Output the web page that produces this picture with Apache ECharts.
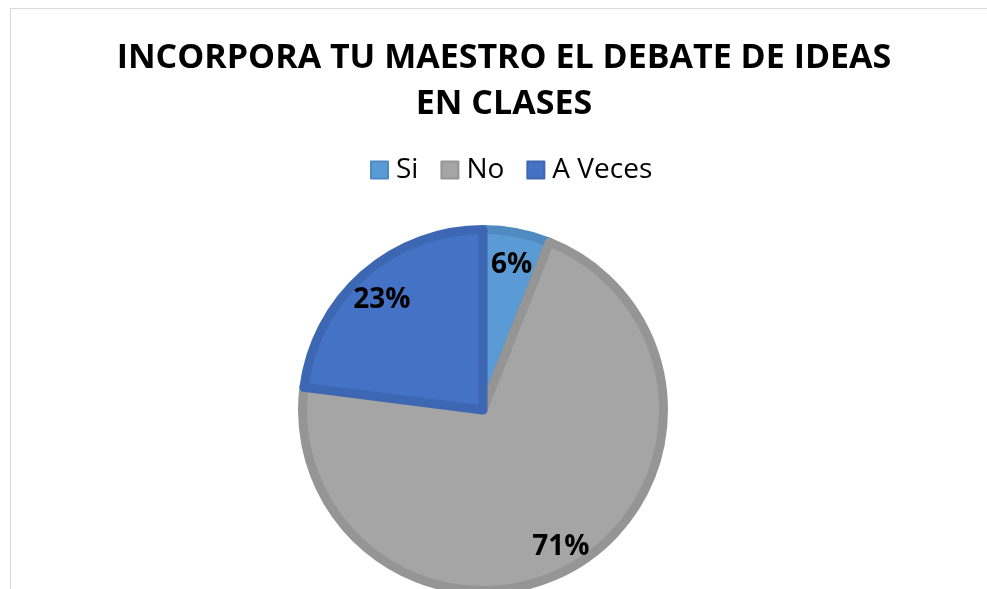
<!DOCTYPE html>
<html>
<head>
<meta charset="utf-8">
<script src="https://cdn.jsdelivr.net/npm/echarts@6/dist/echarts.min.js"></script>
<style>
  html, body { margin: 0; padding: 0; background: #fff; }
  #container { width: 987px; height: 589px; }
</style>
</head>
<body>
<div id="container"></div>
<script>
var dom = document.getElementById('container');
var myChart = echarts.init(dom, null, { renderer: 'canvas' });

const categories = ['Si', 'No', 'A Veces'];
const values = [6, 71, 23];
const fillColors = ['#5B9BD5', '#A5A5A5', '#4472C4'];
const edgeColors = ['#4F8AC2', '#959595', '#3E67B3'];

let pieData = categories.map((name, i) => ({
  name: name,
  value: values[i],
  itemStyle: { color: fillColors[i], borderColor: edgeColors[i], borderWidth: 9 }
}));

let labelData = categories.map((name, i) => ({ name: name, value: values[i] }));

var option = {
  animation: false,
  graphic: [{
    type: 'rect',
    shape: { x: 10.5, y: 8.5, width: 990, height: 600 },
    style: { fill: 'none', stroke: '#D9D9D9', lineWidth: 1 },
    silent: true,
    z: -10
  }],
  title: {
    text: 'INCORPORA TU MAESTRO EL DEBATE DE IDEAS\nEN CLASES',
    left: 499,
    textAlign: 'center',
    top: 30,
    textStyle: {
      fontFamily: 'Open Sans',
      fontWeight: 'bold',
      fontSize: 34,
      lineHeight: 46,
      color: '#000'
    }
  },
  legend: {
    data: categories,
    top: 151,
    left: 365,
    icon: 'rect',
    itemWidth: 17,
    itemHeight: 17,
    itemGap: 22,
    textStyle: { fontFamily: 'Open Sans', fontSize: 28, color: '#000', padding: [0, 0, 0, 3] }
  },
  series: [{
    type: 'pie',
    center: [483, 410],
    radius: 180.5,
    startAngle: 90,
    clockwise: true,
    label: { show: false },
    labelLine: { show: false },
    emphasis: { disabled: true },
    data: pieData
  }, {
    type: 'pie',
    center: [483, 410],
    radius: [115, 185],
    startAngle: 90,
    clockwise: true,
    silent: true,
    itemStyle: { color: 'transparent' },
    label: {
      show: true,
      position: 'inside',
      formatter: '{c}%',
      offset: [0, 5],
      fontFamily: 'Open Sans',
      fontWeight: 'bold',
      fontSize: 28,
      color: '#000'
    },
    labelLine: { show: false },
    emphasis: { disabled: true },
    data: labelData
  }]
};

myChart.setOption(option);
window.addEventListener('resize', myChart.resize);
</script>
</body>
</html>
